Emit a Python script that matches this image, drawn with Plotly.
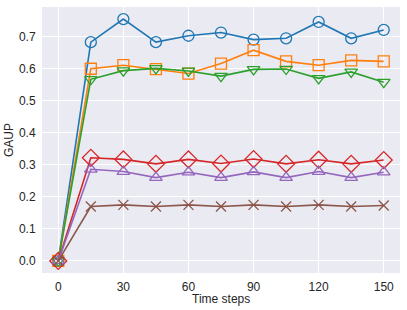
import plotly.graph_objects as go

steps = [0, 15, 30, 45, 60, 75, 90, 105, 120, 135, 150]
s1 = [0.0, 0.683, 0.755, 0.683, 0.703, 0.713, 0.691, 0.695, 0.746, 0.695, 0.721]
s2 = [0.0, 0.600, 0.611, 0.599, 0.585, 0.616, 0.658, 0.623, 0.611, 0.626, 0.623]
s3 = [0.0, 0.567, 0.594, 0.601, 0.593, 0.577, 0.598, 0.599, 0.570, 0.590, 0.558]
s4 = [0.0, 0.322, 0.317, 0.303, 0.317, 0.304, 0.318, 0.303, 0.316, 0.303, 0.315]
s5 = [0.0, 0.286, 0.279, 0.260, 0.277, 0.260, 0.278, 0.260, 0.279, 0.260, 0.277]
s6 = [0.0, 0.170, 0.175, 0.170, 0.175, 0.170, 0.175, 0.170, 0.175, 0.170, 0.173]
x_ticks = [0, 30, 60, 90, 120, 150]
y_ticks = [0.0, 0.1, 0.2, 0.3, 0.4, 0.5, 0.6, 0.7]

series = [
    (s1, "#1f77b4", "circle-open", 11),
    (s2, "#ff7f0e", "square-open", 11),
    (s3, "#2ca02c", "triangle-down-open", 11),
    (s4, "#d62728", "diamond-open", 13),
    (s5, "#9467bd", "triangle-up-open", 11),
    (s6, "#8c564b", "x-thin-open", 10),
]

fig = go.Figure()
for vals, col, sym, sz in series:
    fig.add_trace(go.Scatter(
        x=steps, y=vals, mode="lines+markers",
        line=dict(color=col, width=1.6),
        marker=dict(symbol=sym, size=sz, color=col, line=dict(color=col, width=1.3)),
        showlegend=False,
    ))

font = "Liberation Sans, Arial, sans-serif"
fig.update_layout(
    width=407, height=310,
    margin=dict(l=42, r=7, t=7, b=37),
    paper_bgcolor="white",
    plot_bgcolor="#EAEAF2",
    font=dict(family=font, size=12, color="#262626"),
    xaxis=dict(
        range=[-7.5, 157.5], tickvals=x_ticks, ticktext=[str(v) for v in x_ticks],
        showgrid=True, gridcolor="white", gridwidth=1, zeroline=False,
        showline=False, ticks="outside", ticklen=3, tickcolor="rgba(0,0,0,0)",
        automargin=False, tickfont=dict(size=12),
    ),
    yaxis=dict(
        range=[-0.0377, 0.7927], tickvals=y_ticks, ticktext=["%.1f" % v for v in y_ticks],
        showgrid=True, gridcolor="white", gridwidth=1, zeroline=False,
        showline=False, ticks="outside", ticklen=3, tickcolor="rgba(0,0,0,0)",
        automargin=False, tickfont=dict(size=12),
    ),
    annotations=[
        dict(text="Time steps", xref="paper", yref="paper", x=0.5, y=-0.0,
             yshift=-17, xanchor="center", yanchor="top", showarrow=False,
             font=dict(size=12)),
        dict(text="GAUP", xref="paper", yref="paper", x=0, y=0.5, textangle=-90,
             xshift=-24, xanchor="right", yanchor="middle", showarrow=False,
             font=dict(size=12)),
    ],
)
fig.write_html("out.html", config={"displayModeBar": False},
               post_script="document.body.style.margin='0';document.body.style.overflow='hidden';")
